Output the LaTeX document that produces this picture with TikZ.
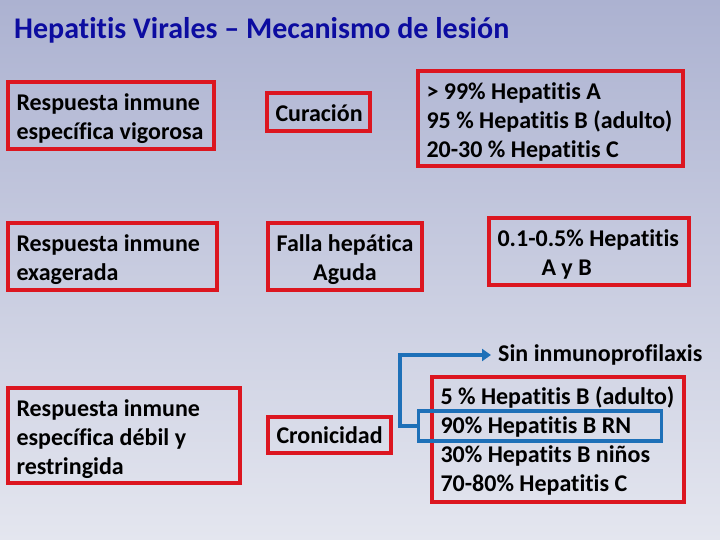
\documentclass[tikz,border=0pt]{standalone}
\usepackage{fontspec}
\setmainfont{Carlito}[Ligatures={NoCommon}]
\usetikzlibrary{arrows.meta}
\definecolor{bgtop}{RGB}{172,178,209}
\definecolor{bgbot}{RGB}{228,230,239}
\definecolor{ttl}{RGB}{12,12,160}
\definecolor{boxred}{RGB}{220,22,32}
\definecolor{arrblue}{RGB}{30,112,184}
\tikzset{
  txt/.style={font=\fontsize{24}{29}\selectfont\bfseries, text=black},
  frame/.style={draw=boxred, line width=3.2pt, inner sep=0pt},
  boxtext/.style={txt, inner xsep=0pt, inner ysep=0pt, align=flush left},
  bluebox/.style={draw=arrblue, line width=3.8pt, inner sep=0pt},
  conn/.style={draw=arrblue, line width=3.8pt, -{Triangle[length=9pt,width=12pt]}}
}
% name, x1, y1, x2, y2, text, text down-shift
\newcommand{\bx}[7]{%
  \node[frame, minimum width={#4-#2}, minimum height={#5-#3}]
    (#1) at ({(#2+#4)/2},{(#3+#5)/2}) {};
  \node[boxtext, text width={#4-#2-17pt}] (#1t) at ([yshift=-#7pt]#1.center) {#6};}
\begin{document}
\begin{tikzpicture}[x=1pt,y=-1pt]
\shade[top color=bgtop, bottom color=bgbot] (0,0) rectangle (720,540);
\useasboundingbox (0,0) rectangle (720,540);
\node[anchor=west, inner sep=0pt, text=ttl, font=\fontsize{30}{34}\selectfont\bfseries] (title) at (14,30)
  {Hepatitis Virales – Mecanismo de lesión};
\bx{vig}{8}{82}{214}{149}{Respuesta inmune\\específica vigorosa}{3}
\bx{cur}{267}{93}{370}{131}{Curación}{1}
\bx{pa}{418}{71}{683}{166}{> 99\% Hepatitis A\\95 \% Hepatitis B (adulto)\\20-30 \% Hepatitis C}{3}
\bx{exa}{8}{223}{217}{290}{Respuesta inmune\\exagerada}{3}
\node[frame, minimum width=154pt, minimum height=67pt] (fal) at (345,256.5) {};
\node[boxtext, align=flush center, text width=140pt] (falt) at ([yshift=-3pt]fal.center)
  {Falla hepática\\Aguda};
\bx{pab}{489}{218}{689}{285}{0.1-0.5\% Hepatitis\\\hspace*{44pt}A y B}{2.5}
\bx{deb}{8}{388}{240}{483}{Respuesta inmune\\específica débil y\\restringida}{3.5}
\bx{cro}{268}{417}{391}{453}{Cronicidad}{0}
\bx{pc}{432}{377}{684}{502}{5 \% Hepatitis B (adulto)\\90\% Hepatitis B RN\\30\% Hepatits B niños\\70-80\% Hepatitis C}{1.5}
\node[bluebox, minimum width=243pt, minimum height=30pt] (rn) at (540,426) {};
\node[txt, anchor=west, inner sep=0pt] (sin) at (498,355) {Sin inmunoprofilaxis};
\draw[conn] (rn.west) -- ++(-17,0) |- ([xshift=-7pt]sin.west);
\end{tikzpicture}
\end{document}
